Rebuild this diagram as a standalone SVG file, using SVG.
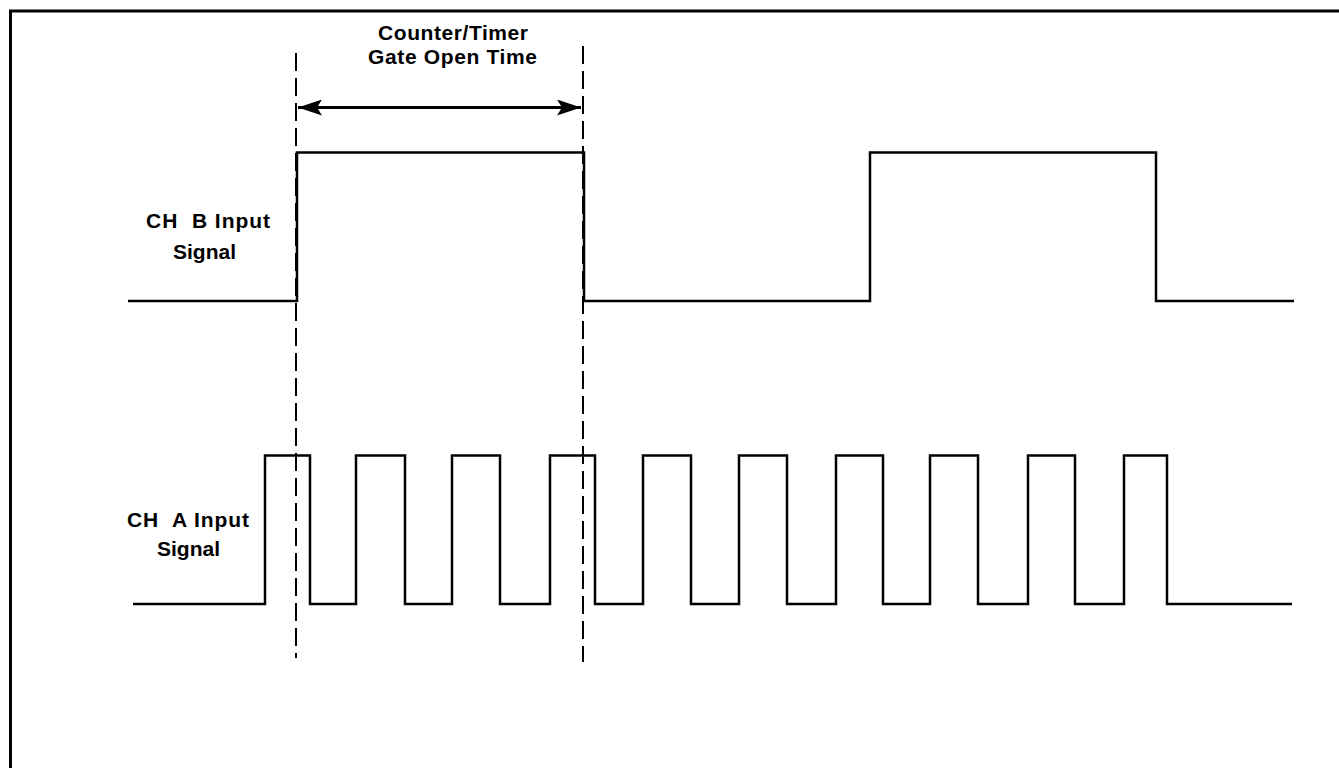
<svg xmlns="http://www.w3.org/2000/svg" width="1339" height="768" viewBox="0 0 1339 768">
  <style>
    .lbl { font-family: "Liberation Sans", Arial, sans-serif; font-weight: bold; font-size: 21px; fill: #000; white-space: pre; }
    .sig { fill: none; stroke: #000; stroke-width: 2.5; stroke-linejoin: miter; }
    .frame { fill: none; stroke: #000; stroke-width: 3; }
    .dash { fill: none; stroke: #000; stroke-width: 2; stroke-dasharray: 18 7; }
    .dim { fill: none; stroke: #000; stroke-width: 3; }
  </style>
  <defs>
    <marker id="arrowEnd" viewBox="0 0 24 16" refX="24" refY="8" markerWidth="24" markerHeight="16" markerUnits="userSpaceOnUse" orient="auto-start-reverse">
      <path d="M0,0 L24,8 L0,16 L5,8 Z" fill="#000"/>
    </marker>
  </defs>
  <rect width="1339" height="768" fill="#fff"/>

  <g id="frame">
    <path class="frame" d="M10.5,768 V11 H1339"/>
  </g>

  <g id="title">
    <text class="lbl" x="378" y="40" textLength="150" lengthAdjust="spacing">Counter/Timer</text>
    <text class="lbl" x="368" y="64" textLength="169" lengthAdjust="spacing">Gate Open Time</text>
  </g>

  <g id="ch-b-label">
    <text class="lbl" x="146" y="228" textLength="124" lengthAdjust="spacing">CH  B Input</text>
    <text class="lbl" x="173" y="259" textLength="63" lengthAdjust="spacing">Signal</text>
  </g>

  <g id="ch-a-label">
    <text class="lbl" x="127" y="527" textLength="122" lengthAdjust="spacing">CH  A Input</text>
    <text class="lbl" x="157" y="556" textLength="63" lengthAdjust="spacing">Signal</text>
  </g>

  <g id="ch-b-signal">
    <path class="sig" d="M128,301 H297 V152.5 H584 V301 H870 V152.5 H1156 V301 H1294"/>
  </g>

  <g id="ch-a-signal">
    <path class="sig" d="M133,604 H265 V455.5 H310 V604 H356 V455.5 H405 V604 H452 V455.5 H500 V604 H550 V455.5 H595 V604 H643 V455.5 H691 V604 H739 V455.5 H787 V604 H836 V455.5 H883 V604 H930 V455.5 H978 V604 H1028 V455.5 H1075 V604 H1124 V455.5 H1167 V604 H1292"/>
  </g>

  <g id="connectors">
    <line class="dash" x1="296" y1="53" x2="296" y2="658"/>
    <line class="dash" x1="583" y1="46" x2="583" y2="662"/>
    <line class="dim" x1="298" y1="107.5" x2="581" y2="107.5" marker-start="url(#arrowEnd)" marker-end="url(#arrowEnd)"/>
  </g>
</svg>
